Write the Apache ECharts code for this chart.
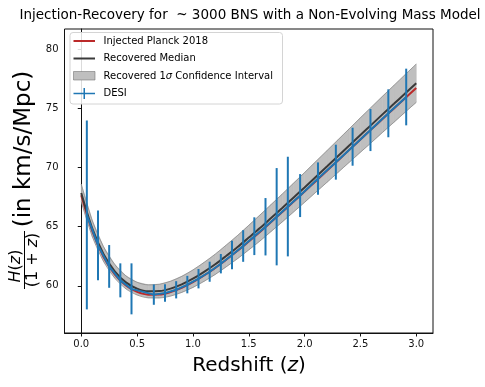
<!DOCTYPE html>
<html>
<head>
<meta charset="utf-8">
<script src="https://cdn.jsdelivr.net/npm/echarts@6/dist/echarts.min.js"></script>
<style>html,body{margin:0;padding:0;background:#fff}#c{width:485px;height:387px}</style>
</head>
<body>
<div id="c"></div>
<script>
// ---- data ----
const zGrid = [0.0,0.1,0.2,0.3,0.4,0.5,0.6,0.7,0.8,0.9,1.0,1.1,1.2,1.3,1.4,1.5,1.6,1.7,1.8,1.9,2.0,2.1,2.2,2.3,2.4,2.5,2.6,2.7,2.8,2.9,3.0];
const injectedPlanck = [67.66,64.60,62.44,60.97,60.02,59.48,59.25,59.26,59.47,59.82,60.30,60.87,61.51,62.22,62.96,63.75,64.56,65.40,66.25,67.11,67.98,68.86,69.74,70.62,71.51,72.39,73.27,74.15,75.02,75.89,76.76];
const recoveredMedian = [67.86,64.82,62.68,61.23,60.29,59.76,59.53,59.55,59.76,60.12,60.60,61.18,61.82,62.54,63.28,64.08,64.89,65.74,66.59,67.46,68.33,69.22,70.10,70.99,71.88,72.77,73.65,74.54,75.41,76.29,77.16];
const bandLow = [67.11,64.14,62.06,60.65,59.74,59.22,58.98,58.97,59.13,59.44,59.86,60.38,60.96,61.62,62.30,63.04,63.79,64.60,65.41,66.24,67.07,67.92,68.76,69.61,70.46,71.31,72.15,73.01,73.85,74.70,75.54];
const bandHigh = [68.61,65.50,63.30,61.81,60.84,60.30,60.08,60.13,60.39,60.80,61.34,61.98,62.68,63.46,64.26,65.12,65.99,66.88,67.77,68.68,69.59,70.52,71.44,72.37,73.30,74.23,75.15,76.07,76.97,77.88,78.78];
const desiZ = [0.05,0.15,0.25,0.35,0.45,0.65,0.75,0.85,0.95,1.05,1.15,1.25,1.35,1.45,1.55,1.65,1.75,1.85,1.96,2.12,2.28,2.43,2.59,2.75,2.91];
const desiH = [66.0,63.42,61.64,60.46,59.74,59.25,59.38,59.66,60.10,60.60,61.19,61.87,62.60,63.37,64.20,65.00,65.85,66.71,67.64,69.08,70.47,71.78,73.19,74.61,75.99];
const desiErr = [8.0,2.95,1.81,1.44,2.16,0.86,0.74,0.73,0.74,0.82,0.85,0.82,1.21,1.34,1.60,2.43,4.12,4.22,1.82,1.37,1.48,1.61,1.78,2.03,2.40];
const xTicks = [0.0,0.5,1.0,1.5,2.0,2.5,3.0];
const yTicks = [60,65,70,75,80];

const FONT = 'DejaVu Sans';
const RED = '#bb2a2a', DARK = '#3a3a3a', BLUE = '#1f77b4', BAND = 'rgba(128,128,128,0.5)', BANDEDGE = 'rgba(110,110,110,0.55)';

const pairs = (xs, ys) => xs.map((x, i) => [x, ys[i]]);
const chart = echarts.init(document.getElementById('c'), null, {renderer: 'canvas'});

const option = {
  animation: false,
  backgroundColor: '#fff',
  grid: {left: 64.5, right: 52, top: 29, bottom: 54, show: true, borderColor: '#111', borderWidth: 1, backgroundColor: 'transparent'},
  xAxis: {
    type: 'value', min: -0.15, max: 3.15,
    splitLine: {show: false},
    axisLine: {show: true, lineStyle: {color: '#111', width: 1}},
    axisTick: {show: true, length: 3.5, lineStyle: {color: '#111', width: 1}, customValues: xTicks},
    axisLabel: {customValues: xTicks, formatter: v => v.toFixed(1), fontFamily: FONT, fontSize: 10, color: '#111', margin: 6}
  },
  yAxis: {
    type: 'value', min: 56, max: 81.75,
    splitLine: {show: false},
    axisLine: {show: true, lineStyle: {color: '#111', width: 1}},
    axisTick: {show: true, length: 3.5, lineStyle: {color: '#111', width: 1}, customValues: yTicks},
    axisLabel: {customValues: yTicks, fontFamily: FONT, fontSize: 10, color: '#111', margin: 6}
  },
  series: [
    {type: 'custom', name: 'Recovered 1σ Confidence Interval', z: 1, silent: true,
     data: zGrid.map((z, i) => [z, bandLow[i], bandHigh[i]]),
     encode: {x: 0, y: [1, 2]},
     renderItem: (params, api) => {
       const i = params.dataIndex;
       if (i >= zGrid.length - 1) return null;
       const a = api.coord([zGrid[i], bandLow[i]]), b = api.coord([zGrid[i + 1], bandLow[i + 1]]);
       const c = api.coord([zGrid[i + 1], bandHigh[i + 1]]), d = api.coord([zGrid[i], bandHigh[i]]);
       return {type: 'polygon', shape: {points: [a, b, c, d]}, style: {fill: 'rgb(191,191,191)', stroke: 'rgb(191,191,191)', lineWidth: 0.6}};
     }},
    {type: 'line', name: 'bandLowEdge', data: pairs(zGrid, bandLow), symbol: 'none', smooth: 0.3, lineStyle: {color: BANDEDGE, width: 1}, z: 2},
    {type: 'line', name: 'bandHighEdge', data: pairs(zGrid, bandHigh), symbol: 'none', smooth: 0.3, lineStyle: {color: BANDEDGE, width: 1}, z: 2},
    {type: 'line', name: 'Injected Planck 2018', data: pairs(zGrid, injectedPlanck), symbol: 'none', smooth: 0.3, lineStyle: {color: RED, width: 2}, z: 3},
    {type: 'line', name: 'Recovered Median', data: pairs(zGrid, recoveredMedian), symbol: 'none', smooth: 0.3, lineStyle: {color: DARK, width: 2}, z: 4},
    {type: 'line', name: 'DESI', data: pairs(desiZ, desiH), symbol: 'none', smooth: false, lineStyle: {color: BLUE, width: 2}, z: 5},
    {type: 'custom', name: 'DESI errors', data: desiZ.map((z, i) => [z, desiH[i], desiErr[i]]),
     encode: {x: 0, y: 1}, z: 6,
     renderItem: (params, api) => {
       const x = api.value(0), y = api.value(1), e = api.value(2);
       const p1 = api.coord([x, y - e]), p2 = api.coord([x, y + e]);
       return {type: 'line', shape: {x1: p1[0], y1: p1[1], x2: p2[0], y2: p2[1]}, style: {stroke: BLUE, lineWidth: 2}};
     }}
  ],
  graphic: [
    // title
    {type: 'text', x: 250, y: 15, z: 100, style: {text: 'Injection-Recovery for  ~ 3000 BNS with a Non-Evolving Mass Model', font: `13.5px "${FONT}"`, fill: '#000', align: 'center', verticalAlign: 'middle'}},
    // x axis label
    {type: 'text', x: 249, y: 366, z: 100, style: {text: 'Redshift ({i|z})', font: `20px "${FONT}"`, fill: '#000', align: 'center', verticalAlign: 'middle',
      rich: {i: {fontFamily: FONT, fontSize: 20, fontStyle: 'italic', fill: '#000'}}}},
    // y axis label
    {type: 'text', x: 24, y: 149, rotation: Math.PI / 2, z: 100, style: {text: '(in km/s/Mpc)', font: `23px "${FONT}"`, fill: '#000', align: 'center', verticalAlign: 'middle'}},
    {type: 'text', x: 16, y: 266, rotation: Math.PI / 2, z: 100, style: {text: '{i|H}({i|z})', font: `16px "${FONT}"`, fill: '#000', align: 'center', verticalAlign: 'middle',
      rich: {i: {fontFamily: FONT, fontSize: 16, fontStyle: 'italic', fill: '#000'}}}},
    {type: 'line', z: 100, shape: {x1: 24.5, y1: 231, x2: 24.5, y2: 289}, style: {stroke: '#000', lineWidth: 1}},
    {type: 'text', x: 33, y: 260, rotation: Math.PI / 2, z: 100, style: {text: '(1 + {i|z})', font: `16px "${FONT}"`, fill: '#000', align: 'center', verticalAlign: 'middle',
      rich: {i: {fontFamily: FONT, fontSize: 16, fontStyle: 'italic', fill: '#000'}}}},
    // legend
    {type: 'rect', z: 100, shape: {x: 70, y: 32.5, width: 212.5, height: 71.5, r: 3}, style: {fill: 'rgba(255,255,255,0.85)', stroke: '#d4d4d4', lineWidth: 1}},
    {type: 'line', z: 101, shape: {x1: 73.5, y1: 41, x2: 95, y2: 41}, style: {stroke: RED, lineWidth: 2}},
    {type: 'text', z: 101, x: 103.5, y: 41, style: {text: 'Injected Planck 2018', font: `10px "${FONT}"`, fill: '#000', verticalAlign: 'middle'}},
    {type: 'line', z: 101, shape: {x1: 73.5, y1: 58.5, x2: 95, y2: 58.5}, style: {stroke: DARK, lineWidth: 2}},
    {type: 'text', z: 101, x: 103.5, y: 58.5, style: {text: 'Recovered Median', font: `10px "${FONT}"`, fill: '#000', verticalAlign: 'middle'}},
    {type: 'rect', z: 101, shape: {x: 73.5, y: 71.5, width: 21.5, height: 8.5}, style: {fill: 'rgb(191,191,191)', stroke: BANDEDGE, lineWidth: 1}},
    {type: 'text', z: 101, x: 103.5, y: 76, style: {text: 'Recovered 1{i|σ} Confidence Interval', font: `10px "${FONT}"`, fill: '#000', verticalAlign: 'middle',
      rich: {i: {fontFamily: FONT, fontSize: 10, fontStyle: 'italic', fill: '#000'}}}},
    {type: 'line', z: 101, shape: {x1: 73.5, y1: 93.5, x2: 95, y2: 93.5}, style: {stroke: BLUE, lineWidth: 1.5}},
    {type: 'line', z: 101, shape: {x1: 84.25, y1: 88, x2: 84.25, y2: 99}, style: {stroke: BLUE, lineWidth: 1.5}},
    {type: 'text', z: 101, x: 103.5, y: 93.5, style: {text: 'DESI', font: `10px "${FONT}"`, fill: '#000', verticalAlign: 'middle'}}
  ]
};
chart.setOption(option);
</script>
</body>
</html>
